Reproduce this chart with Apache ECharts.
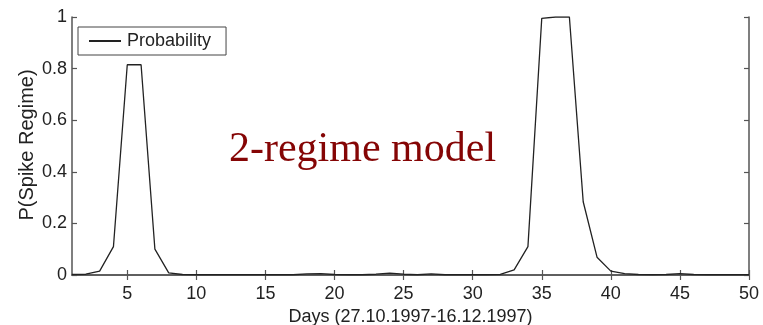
<!DOCTYPE html>
<html>
<head>
<meta charset="utf-8">
<script src="https://cdn.jsdelivr.net/npm/echarts@6/dist/echarts.min.js"></script>
<style>
  html, body { margin: 0; padding: 0; background: #fff; }
  #chart { width: 763px; height: 325px; }
</style>
</head>
<body>
<div id="chart"></div>
<script>
// Daily probability of being in the spike regime
const days = [];
for (let d = 1; d <= 50; d++) days.push(d);
const probability = [
  0.002, 0.003, 0.015, 0.11, 0.815, 0.815, 0.1, 0.008, 0.002, 0.001,
  0.001, 0.001, 0.001, 0.001, 0.001, 0.001, 0.001, 0.004, 0.005, 0.002,
  0.001, 0.001, 0.003, 0.007, 0.003, 0.001, 0.004, 0.001, 0.001, 0.001,
  0.001, 0.002, 0.02, 0.11, 0.995, 1.0, 1.0, 0.284, 0.069, 0.015,
  0.005, 0.002, 0.001, 0.002, 0.005, 0.002, 0.001, 0.001, 0.001, 0.001
];
const xTicks = [5, 10, 15, 20, 25, 30, 35, 40, 45, 50];
const seriesName = 'Probability';
const xTitle = 'Days (27.10.1997-16.12.1997)';
const yTitle = 'P(Spike Regime)';
const annotation = '2-regime model';

const font = 'Liberation Sans, Arial, Helvetica, sans-serif';
const axisColor = '#555';
const textColor = '#222';

const chart = echarts.init(document.getElementById('chart'), null, { renderer: 'canvas' });

const boxAxis = {
  axisLine: { show: true, lineStyle: { color: axisColor, width: 1.5 } },
  axisTick: { show: true, inside: true, length: 5, lineStyle: { color: axisColor, width: 1.2 } },
  splitLine: { show: false }
};

chart.setOption({
  animation: false,
  backgroundColor: '#fff',
  grid: { left: 72, right: 14, top: 17, bottom: 50, containLabel: false, outerBoundsMode: 'none' },
  legend: {
    left: 78, top: 27,
    data: [seriesName],
    itemWidth: 32, itemHeight: 2, itemGap: 0,
    padding: [5, 15, 5, 10],
    backgroundColor: '#fff',
    borderColor: '#444', borderWidth: 1, borderRadius: 0,
    textStyle: { fontFamily: font, fontSize: 18, color: textColor, padding: [0, 0, 0, 1] }
  },
  xAxis: [
    Object.assign({}, boxAxis, {
      type: 'value', min: 1, max: 50,
      name: xTitle, nameLocation: 'middle', nameGap: 32,
      nameTextStyle: { fontFamily: font, fontSize: 18, color: textColor },
      axisTick: Object.assign({}, boxAxis.axisTick, { customValues: xTicks }),
      axisLabel: { customValues: xTicks, margin: 10, fontFamily: font, fontSize: 18, color: textColor }
    }),
    Object.assign({}, boxAxis, {
      type: 'value', min: 1, max: 50, position: 'top',
      axisTick: Object.assign({}, boxAxis.axisTick, { customValues: xTicks }),
      axisLabel: { show: false }
    })
  ],
  yAxis: [
    Object.assign({}, boxAxis, {
      type: 'value', min: 0, max: 1, interval: 0.2,
      axisLabel: { margin: 5, fontFamily: font, fontSize: 18, color: textColor }
    }),
    Object.assign({}, boxAxis, {
      type: 'value', min: 0, max: 1, interval: 0.2, position: 'right',
      axisLabel: { show: false }
    })
  ],
  series: [{
    name: seriesName,
    type: 'line',
    data: days.map((d, i) => [d, probability[i]]),
    symbol: 'none',
    lineStyle: { color: '#222', width: 1.3 },
    itemStyle: { color: '#222' }
  }],
  graphic: [
    {
      // vertical axis title, placed beside the tick labels
      type: 'text',
      x: 27, y: 145,
      rotation: Math.PI / 2,
      style: {
        text: yTitle,
        font: '20px "Liberation Sans", Arial, sans-serif',
        fill: textColor,
        align: 'center',
        verticalAlign: 'middle'
      }
    },
    {
      type: 'text',
      left: 229, top: 129,
      style: {
        text: annotation,
        font: '42px "Liberation Serif", "Times New Roman", serif',
        fill: '#850505'
      }
    }
  ]
});
</script>
</body>
</html>
